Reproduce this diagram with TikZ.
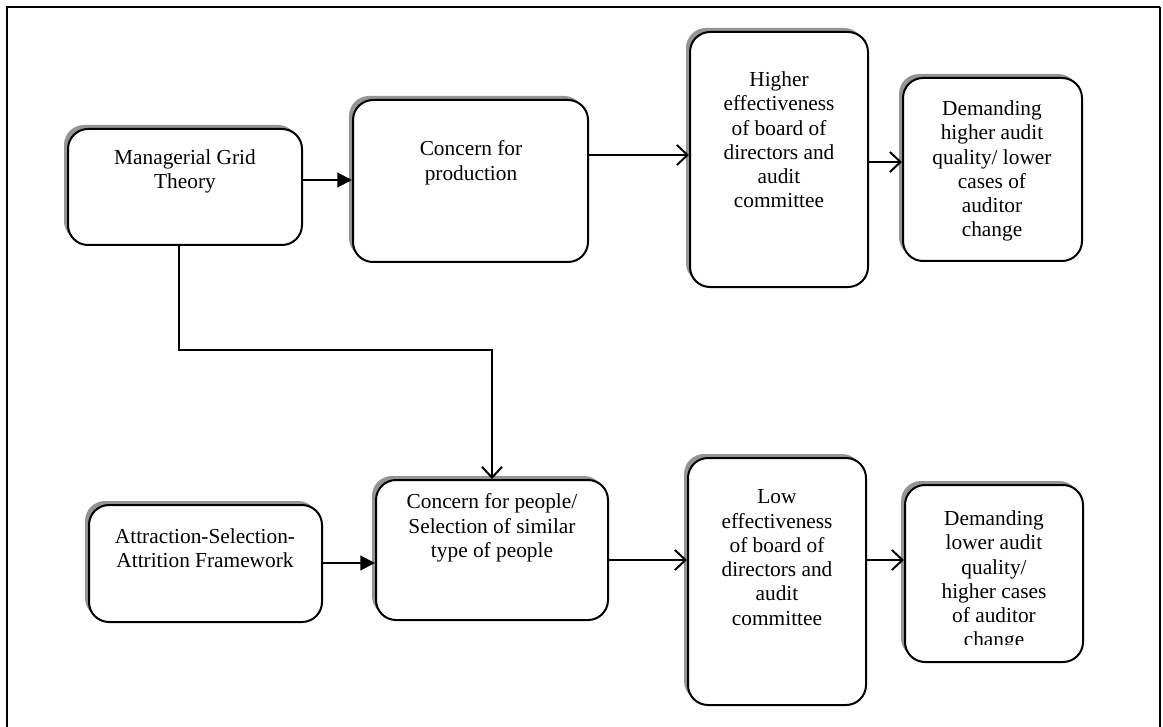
\documentclass[tikz,border=0pt]{standalone}
\usepackage{fontspec}
\setmainfont{Liberation Serif}
\usetikzlibrary{arrows.meta,shadows,calc}

% one unit = one pixel of the final page, y grows downwards
\tikzset{
  panel/.style={draw=black, line width=1.5pt, fill=white, rounded corners=15pt, inner sep=0pt,
    general shadow={fill=black!42, shadow xshift=-3pt, shadow yshift=3pt}},
  caption/.style={anchor=north, inner sep=0pt, align=center,
    font=\fontsize{16}{18.2}\selectfont},
  link/.style={line width=1.5pt},
  solidhead/.style={link, -{Triangle[length=11pt,width=11pt]}},
  openhead/.style={link, -{Straight Barb[length=8pt,width=15pt]}}
}

% \panelbox{name}{left}{top}{right}{bottom}
\newcommand\panelbox[5]{%
  \node[panel, minimum width={(#4-#2)*0.75pt}, minimum height={(#5-#3)*0.75pt}]
    (#1) at ({(#2+#4)/2},{(#3+#5)/2}) {};}

\begin{document}
\begin{tikzpicture}[x=0.75pt, y=-0.75pt]
\useasboundingbox (0,0) rectangle (1163,727);

% outer frame (open at the bottom)
\draw[line width=1.5pt] (7,727) -- (7,7) -- (1160,7);
\draw[line width=0.9pt] (1160,7) -- (1160,727);

% boxes
\panelbox{mgt}{68}{129}{302}{245}
\panelbox{cfp}{353}{100}{588}{262}
\panelbox{he}{690}{32}{868}{287}
\panelbox{dh}{903}{78}{1082}{261}
\panelbox{att}{89}{505}{322}{622}
\panelbox{cfpe}{376}{480}{608}{620}
\panelbox{le}{688}{458}{866}{705}
\panelbox{dl}{905}{485}{1083}{662}

% box texts
\node[caption] (mgt-t) at (185,149.5) {Managerial Grid\\Theory};
\node[caption] (cfp-t) at (471,140.5) {Concern for\\production};
\node[caption] (he-t) at (779,71.5) {Higher\\effectiveness\\of board of\\directors and\\audit\\committee};
\node[caption] (dh-t) at (992,100.5) {Demanding\\higher audit\\quality/ lower\\cases of\\auditor\\change};
\node[caption] (att-t) at (205,528.5) {Attraction-Selection-\\Attrition Framework};
\node[caption] (cfpe-t) at (492,493.5) {Concern for people/\\Selection of similar\\type of people};
\node[caption] (le-t) at (777,489.5) {Low\\effectiveness\\of board of\\directors and\\audit\\committee};
\begin{scope}
  \clip (890,470) rectangle (1100,644);
  \node[caption] (dl-t) at (994,510.5) {Demanding\\lower audit\\quality/\\higher cases\\of auditor\\change};
\end{scope}

% connectors
\coordinate (r1) at (0,180);
\coordinate (r2) at (0,155);
\coordinate (r3) at (0,162);
\coordinate (r4) at (0,563);
\coordinate (r5) at (0,560);
\coordinate (bend) at (179,350);

\draw[solidhead] (mgt.east |- r1) -- (cfp.west |- r1);
\draw[openhead] (cfp.east |- r2) -- (he.west |- r2);
\draw[openhead] (he.east |- r3) -- (dh.west |- r3);
\draw[solidhead] (att.east |- r4) -- (cfpe.west |- r4);
\draw[openhead] (cfpe.east |- r5) -- (le.west |- r5);
\draw[openhead] (le.east |- r5) -- (dl.west |- r5);
\draw[openhead] (bend |- mgt.south) -- (bend) -- (bend -| cfpe.north) -- (cfpe.north);
\end{tikzpicture}
\end{document}
